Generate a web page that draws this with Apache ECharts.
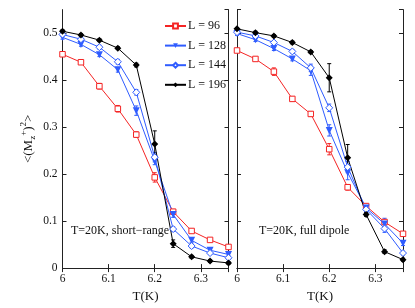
<!DOCTYPE html>
<html><head><meta charset="utf-8">
<script src="https://cdn.jsdelivr.net/npm/echarts@6/dist/echarts.min.js"></script>
<style>html,body{margin:0;padding:0;background:#fff}#c{width:415px;height:308px}</style>
</head><body><div id="c"></div>
<script>
const T = [6.00, 6.04, 6.08, 6.12, 6.16, 6.20, 6.24, 6.28, 6.32, 6.36];
const names = ['L = 96', 'L = 128', 'L = 144', 'L = 196'];
// short-range panel
const sr96  = [0.455, 0.438, 0.387, 0.339, 0.284, 0.193, 0.120, 0.079, 0.060, 0.045];
const sr128 = [0.491, 0.476, 0.454, 0.422, 0.335, 0.228, 0.114, 0.059, 0.038, 0.029];
const sr144 = [0.497, 0.487, 0.470, 0.439, 0.374, 0.236, 0.083, 0.047, 0.032, 0.022];
const sr196 = [0.504, 0.496, 0.485, 0.468, 0.432, 0.264, 0.052, 0.024, 0.015, 0.011];
const sr96Err  = [0.004, 0.004, 0.006, 0.007, 0.006, 0.010, 0.005, 0.004, 0.003, 0.003];
const sr128Err = [0.004, 0.004, 0.004, 0.005, 0.010, 0.008, 0.006, 0.004, 0.004, 0.003];
const sr144Err = [0.003, 0.004, 0.004, 0.005, 0.006, 0.010, 0.005, 0.004, 0.003, 0.003];
const sr196Err = [0.003, 0.003, 0.003, 0.003, 0.004, 0.028, 0.008, 0.003, 0.003, 0.003];
// full dipole panel
const fd96  = [0.463, 0.445, 0.418, 0.360, 0.328, 0.253, 0.172, 0.132, 0.098, 0.073];
const fd128 = [0.499, 0.486, 0.467, 0.445, 0.420, 0.293, 0.203, 0.128, 0.094, 0.053];
const fd144 = [0.502, 0.494, 0.480, 0.461, 0.426, 0.341, 0.215, 0.125, 0.084, 0.032];
const fd196 = [0.509, 0.501, 0.494, 0.480, 0.460, 0.405, 0.235, 0.114, 0.035, 0.018];
const fd96Err  = [0.004, 0.004, 0.008, 0.005, 0.005, 0.012, 0.006, 0.005, 0.005, 0.004];
const fd128Err = [0.004, 0.004, 0.004, 0.004, 0.010, 0.012, 0.015, 0.008, 0.012, 0.005];
const fd144Err = [0.003, 0.003, 0.004, 0.004, 0.008, 0.008, 0.012, 0.008, 0.008, 0.004];
const fd196Err = [0.003, 0.003, 0.003, 0.003, 0.003, 0.030, 0.028, 0.004, 0.004, 0.003];
const xTicks = [6, 6.1, 6.2, 6.3];
const yTicks = [0, 0.1, 0.2, 0.3, 0.4, 0.5];
const panelLabels = ['T=20K, short\u2212range', 'T=20K, full dipole'];

const FONT = '"Liberation Serif", "DejaVu Serif", serif';
const RED = '#f42424', BLUE = '#2f5cff', BLACK = '#000';
const styles = [
  {color: RED,   symbol: 'rect',     size: 5.5, hollow: true,  rot: 0},
  {color: BLUE,  symbol: 'triangle', size: 7,   hollow: false, rot: 180},
  {color: BLUE,  symbol: 'diamond',  size: 7,   hollow: true,  rot: 0},
  {color: BLACK, symbol: 'diamond',  size: 7,   hollow: false, rot: 0}
];
const panels = [[sr96, sr128, sr144, sr196], [fd96, fd128, fd144, fd196]];
const panelErrs = [[sr96Err, sr128Err, sr144Err, sr196Err], [fd96Err, fd128Err, fd144Err, fd196Err]];

const near = (v, arr) => arr.some(t => Math.abs(t - v) < 1e-6);
const fmtX = v => near(v, xTicks) ? String(+(+v).toFixed(1)) : '';
const fmtY = v => near(v, yTicks) ? String(+(+v).toFixed(1)) : '';

const grids = [
  {left: 62.5, top: 9.6, width: 166, height: 261.1, show: false},
  {left: 237, top: 9.6, width: 166, height: 261.1, show: false}
];
const axLine = {show: true, lineStyle: {color: '#222', width: 1}};
const axTick = {show: true, inside: true, length: 4, lineStyle: {color: '#222', width: 1}};
const xAxes = [], yAxes = [];
[0, 1].forEach(g => {
  xAxes.push({type: 'value', gridIndex: g, min: 6, max: 6.36, interval: 0.1, position: 'bottom',
    axisLine: axLine, axisTick: axTick, splitLine: {show: false},
    axisLabel: {formatter: fmtX, fontFamily: FONT, fontSize: 11.5, color: '#111', margin: 5, showMaxLabel: false},
    name: 'T(K)', nameLocation: 'middle', nameGap: 12,
    nameTextStyle: {fontFamily: FONT, fontSize: 13, color: '#111'}});
  xAxes.push({type: 'value', gridIndex: g, min: 6, max: 6.36, interval: 0.1, position: 'top',
    axisLine: axLine, axisTick: axTick, splitLine: {show: false}, axisLabel: {show: false}});
  yAxes.push({type: 'value', gridIndex: g, min: 0, max: 0.55, interval: 0.1, position: 'left',
    axisLine: axLine, axisTick: axTick, splitLine: {show: false},
    axisLabel: {show: g === 0, formatter: fmtY, fontFamily: FONT, fontSize: 11.5, color: '#111', margin: 5, showMaxLabel: false},
    name: g === 0 ? '{b|<(M}{sub|z}{sup|+}{b|)}{sup|2}{b|>}' : '',
    nameLocation: 'middle', nameRotate: 90, nameGap: 25,
    nameTextStyle: {fontFamily: FONT, fontSize: 13, color: '#111', lineHeight: 18,
      rich: {
        b: {fontFamily: FONT, fontSize: 13, color: '#111', lineHeight: 18, verticalAlign: 'middle'},
        sup: {fontFamily: FONT, fontSize: 9, color: '#111', verticalAlign: 'top', lineHeight: 10},
        sub: {fontFamily: FONT, fontSize: 9, color: '#111', verticalAlign: 'bottom', lineHeight: 10}
      }}});
  yAxes.push({type: 'value', gridIndex: g, min: 0, max: 0.55, interval: 0.1, position: 'right',
    axisLine: axLine, axisTick: axTick, splitLine: {show: false}, axisLabel: {show: false}});
});

const series = [];
[0, 1].forEach(g => {
  panels[g].forEach((vals, k) => {
    const s = styles[k];
    series.push({
      type: 'custom', xAxisIndex: g * 2, yAxisIndex: g * 2, silent: true,
      data: T.map((t, i) => [t, vals[i], panelErrs[g][k][i]]),
      renderItem: (params, api) => {
        const x = api.value(0), y = api.value(1), e = api.value(2);
        const a = api.coord([x, y + e]), b = api.coord([x, y - e]);
        const st = {stroke: s.color, lineWidth: 1};
        return {type: 'group', children: [
          {type: 'line', shape: {x1: a[0], y1: a[1], x2: b[0], y2: b[1]}, style: st},
          {type: 'line', shape: {x1: a[0] - 2, y1: a[1], x2: a[0] + 2, y2: a[1]}, style: st},
          {type: 'line', shape: {x1: b[0] - 2, y1: b[1], x2: b[0] + 2, y2: b[1]}, style: st}
        ]};
      },
      z: 1
    });
    series.push({
      type: 'line', name: names[k], xAxisIndex: g * 2, yAxisIndex: g * 2,
      data: T.map((t, i) => [t, vals[i]]),
      symbol: s.symbol, symbolSize: s.size, symbolRotate: s.rot, showAllSymbol: true,
      lineStyle: {color: s.color, width: 1},
      itemStyle: s.hollow ? {color: '#fff', borderColor: s.color, borderWidth: 1} : {color: s.color, borderColor: s.color, borderWidth: 0},
      emphasis: {disabled: true}, animation: false, z: 2
    });
  });
});

const option = {
  animation: false,
  backgroundColor: '#fff',
  grid: grids,
  xAxis: xAxes,
  yAxis: yAxes,
  legend: {
    data: names, orient: 'vertical', left: 159, top: 15,
    itemWidth: 21, itemHeight: 6, itemGap: 7.6,
    textStyle: {fontFamily: FONT, fontSize: 12, color: '#111', padding: [0, 0, 0, -3]},
    selectedMode: false
  },
  graphic: [
    {type: 'text', left: 71, top: 225, z: 0, style: {text: panelLabels[0], font: '12px ' + FONT, fill: '#111'}},
    {type: 'text', left: 259, top: 225, z: 0, style: {text: panelLabels[1], font: '12px ' + FONT, fill: '#111'}}
  ],
  series: series
};
const chart = echarts.init(document.getElementById('c'), null, {renderer: 'canvas'});
chart.setOption(option);
</script></body></html>
